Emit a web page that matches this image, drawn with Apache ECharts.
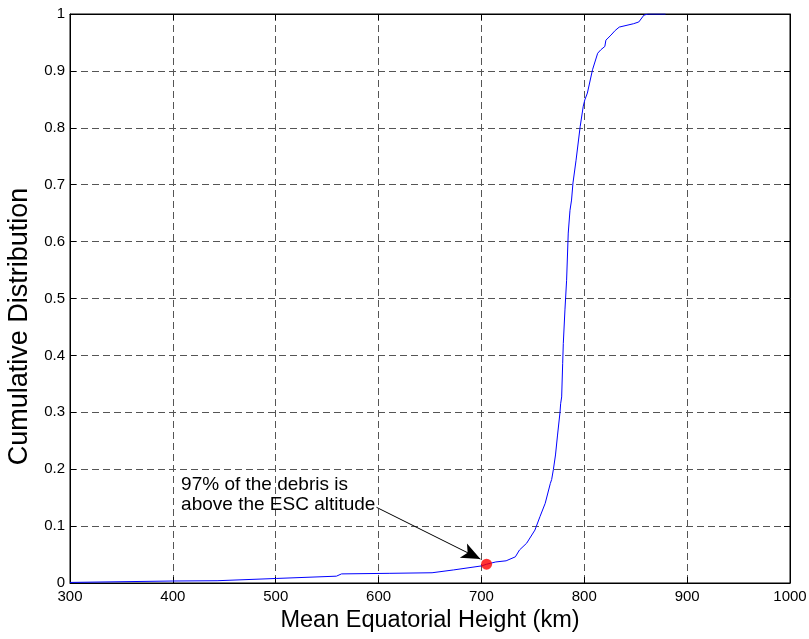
<!DOCTYPE html>
<html>
<head>
<meta charset="utf-8">
<script src="https://cdn.jsdelivr.net/npm/echarts@6/dist/echarts.min.js"></script>
<style>
html,body{margin:0;padding:0;background:#fff;}
#chart{width:809px;height:639px;}
</style>
</head>
<body>
<div id="chart"></div>
<script>
// Data
var heights = [300, 400, 443, 501, 559, 564, 611, 652, 673, 700, 705, 714, 724, 733, 737, 744, 752, 757, 762, 767, 768.3, 770, 772, 774, 776.4, 777, 778, 779, 779.6, 781.2, 782.8, 784.4, 786.1, 787.6, 789, 792, 796, 799, 800.5, 803, 808, 813, 816, 820, 821, 826, 830, 834, 848, 853, 858, 862, 879];
var cdf     = [0.001, 0.0035, 0.004, 0.008, 0.012, 0.016, 0.017, 0.018, 0.023, 0.030, 0.033, 0.037, 0.039, 0.046, 0.058, 0.070, 0.093, 0.117, 0.140, 0.175, 0.182, 0.200, 0.225, 0.260, 0.300, 0.315, 0.327, 0.386, 0.421, 0.480, 0.532, 0.615, 0.655, 0.673, 0.703, 0.743, 0.802, 0.838, 0.849, 0.861, 0.902, 0.931, 0.937, 0.943, 0.954, 0.963, 0.971, 0.977, 0.983, 0.986, 0.998, 1.0, 1.0];
var xTicks = [300, 400, 500, 600, 700, 800, 900, 1000];
var yTicks = [0, 0.1, 0.2, 0.3, 0.4, 0.5, 0.6, 0.7, 0.8, 0.9, 1];
var markerPoint = [705, 0.033];
var annotationText = ['97% of the debris is', 'above the ESC altitude'];
var annotationAnchor = [408, 0.155];
var arrowFrom = [598, 0.133];
var arrowTo = [699, 0.042];
var xName = 'Mean Equatorial Height (km)';
var yName = 'Cumulative Distribution';

var FONT = '"Liberation Sans", Arial, Helvetica, sans-serif';
var chart = echarts.init(document.getElementById('chart'), null, {renderer: 'canvas'});

var lineData = heights.map(function (h, i) { return [h, cdf[i]]; });

var gridDash = {color: '#555', width: 1, type: [7, 4]};

var option = {
  animation: false,
  backgroundColor: '#fff',
  grid: {left: 70, right: 19, top: 14, bottom: 56, containLabel: false, outerBoundsMode: 'none',
    show: true, borderColor: '#000', borderWidth: 1, backgroundColor: '#fff'},
  xAxis: [{
    type: 'value', min: xTicks[0], max: xTicks[xTicks.length - 1], interval: 100,
    name: xName, nameLocation: 'middle', nameGap: 24,
    nameTextStyle: {fontFamily: FONT, fontSize: 23.5, color: '#000'},
    axisLine: {show: true, onZero: false, lineStyle: {color: '#000', width: 1}},
    axisTick: {show: true, inside: true, length: 6, lineStyle: {color: '#000'}},
    axisLabel: {fontFamily: FONT, fontSize: 15, color: '#000', margin: 6,
      formatter: function (v) { return xTicks.indexOf(v) >= 0 ? String(v) : ''; }},
    splitLine: {show: true, lineStyle: gridDash}
  }, {
    type: 'value', position: 'top', min: xTicks[0], max: xTicks[xTicks.length - 1], interval: 100,
    axisLine: {show: true, onZero: false, lineStyle: {color: '#000', width: 1}},
    axisTick: {show: true, inside: true, length: 6, lineStyle: {color: '#000'}},
    axisLabel: {show: false}, splitLine: {show: false}
  }],
  yAxis: [{
    type: 'value', min: 0, max: 1, interval: 0.1,
    name: yName, nameLocation: 'middle', nameGap: 34,
    nameTextStyle: {fontFamily: FONT, fontSize: 27, color: '#000', padding: [0, 56, 0, 0]},
    axisLine: {show: true, onZero: false, lineStyle: {color: '#000', width: 1}},
    axisTick: {show: true, inside: true, length: 6, lineStyle: {color: '#000'}},
    axisLabel: {fontFamily: FONT, fontSize: 15, color: '#000', margin: 5,
      formatter: function (v) {
        for (var i = 0; i < yTicks.length; i++) { if (Math.abs(yTicks[i] - v) < 1e-9) return String(yTicks[i]); }
        return '';
      }},
    splitLine: {show: true, lineStyle: gridDash}
  }, {
    type: 'value', position: 'right', min: 0, max: 1, interval: 0.1,
    axisLine: {show: true, onZero: false, lineStyle: {color: '#000', width: 1}},
    axisTick: {show: true, inside: true, length: 6, lineStyle: {color: '#000'}},
    axisLabel: {show: false}, splitLine: {show: false}
  }],
  series: [{
    type: 'line',
    data: lineData,
    showSymbol: false,
    symbol: 'none',
    lineStyle: {color: '#0000ff', width: 1},
    z: 3
  }, {
    type: 'scatter',
    data: [markerPoint],
    symbol: 'circle',
    symbolSize: 11,
    itemStyle: {color: '#ff0000'},
    z: 5,
    markLine: {
      silent: true,
      symbol: ['none', 'arrow'],
      symbolSize: [12, 19],
      label: {show: false},
      lineStyle: {color: '#000', width: 1, type: 'solid'},
      data: [[{coord: arrowFrom}, {coord: arrowTo}]]
    },
    markPoint: {
      silent: true,
      symbol: 'circle',
      symbolSize: 0,
      data: [{coord: annotationAnchor}],
      label: {
        show: true, position: 'right', distance: 0,
        formatter: annotationText.join('\n'),
        fontFamily: FONT, fontSize: 19, lineHeight: 20, color: '#000', align: 'left'
      }
    }
  }]
};
chart.setOption(option);
</script>
</body>
</html>
